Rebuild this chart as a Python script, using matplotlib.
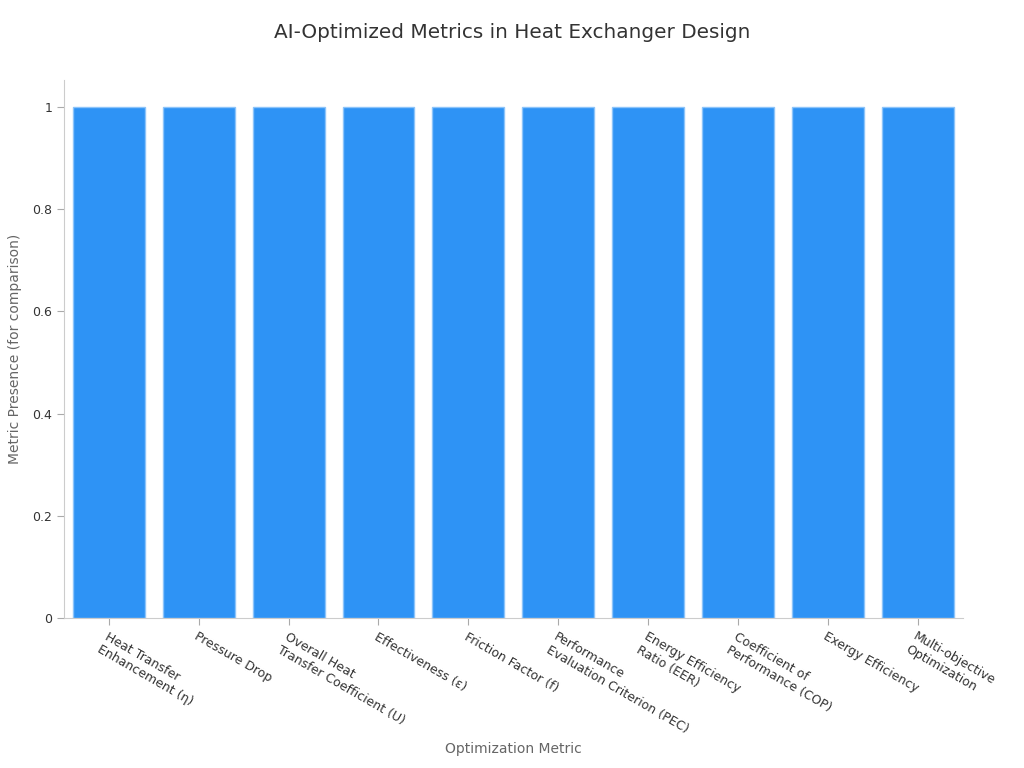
import matplotlib
matplotlib.use("Agg")
import matplotlib.pyplot as plt
from matplotlib.ticker import FuncFormatter

categories = [
    "Heat Transfer\nEnhancement (η)",
    "Pressure Drop",
    "Overall Heat\nTransfer Coefficient (U)",
    "Effectiveness (ε)",
    "Friction Factor (f)",
    "Performance\nEvaluation Criterion (PEC)",
    "Energy Efficiency\nRatio (EER)",
    "Coefficient of\nPerformance (COP)",
    "Exergy Efficiency",
    "Multi-objective\nOptimization",
]
values = [1, 1, 1, 1, 1, 1, 1, 1, 1, 1]

plt.rcParams['font.family'] = ['DejaVu Sans']
fig = plt.figure(figsize=(10.24, 7.68), dpi=100)
ax = fig.add_axes([0.0625, 0.195, 0.8775, 0.701])

x = list(range(len(categories)))
ax.bar(x, values, width=0.8, color="#2e93f5", edgecolor="#8cc4fa", linewidth=1)
ax.set_xlim(-0.5, 9.5)
ax.set_ylim(0, 1.053)
ax.set_xticks(x)
ax.set_xticklabels(categories, rotation=-30, ha='left', va='top',
                   rotation_mode='anchor', fontsize=9, color="#333333")
ax.set_yticks([0, 0.2, 0.4, 0.6, 0.8, 1.0])
ax.yaxis.set_major_formatter(FuncFormatter(lambda v, p: f"{v:g}"))
ax.tick_params(axis='y', labelsize=9, colors="#333333", length=5, color="#aaaaaa")
ax.tick_params(axis='x', length=5, color="#aaaaaa")

for s in ['top', 'right']:
    ax.spines[s].set_visible(False)
for s in ['left', 'bottom']:
    ax.spines[s].set_color("#cccccc")

ax.set_xlabel("Optimization Metric", fontsize=10, color="#666666", labelpad=5)
ax.set_ylabel("Metric Presence (for comparison)", fontsize=10, color="#666666", labelpad=7)
fig.suptitle("AI-Optimized Metrics in Heat Exchanger Design", fontsize=14.4, color="#333333", y=0.97)

fig.savefig("out.png", dpi=100)
